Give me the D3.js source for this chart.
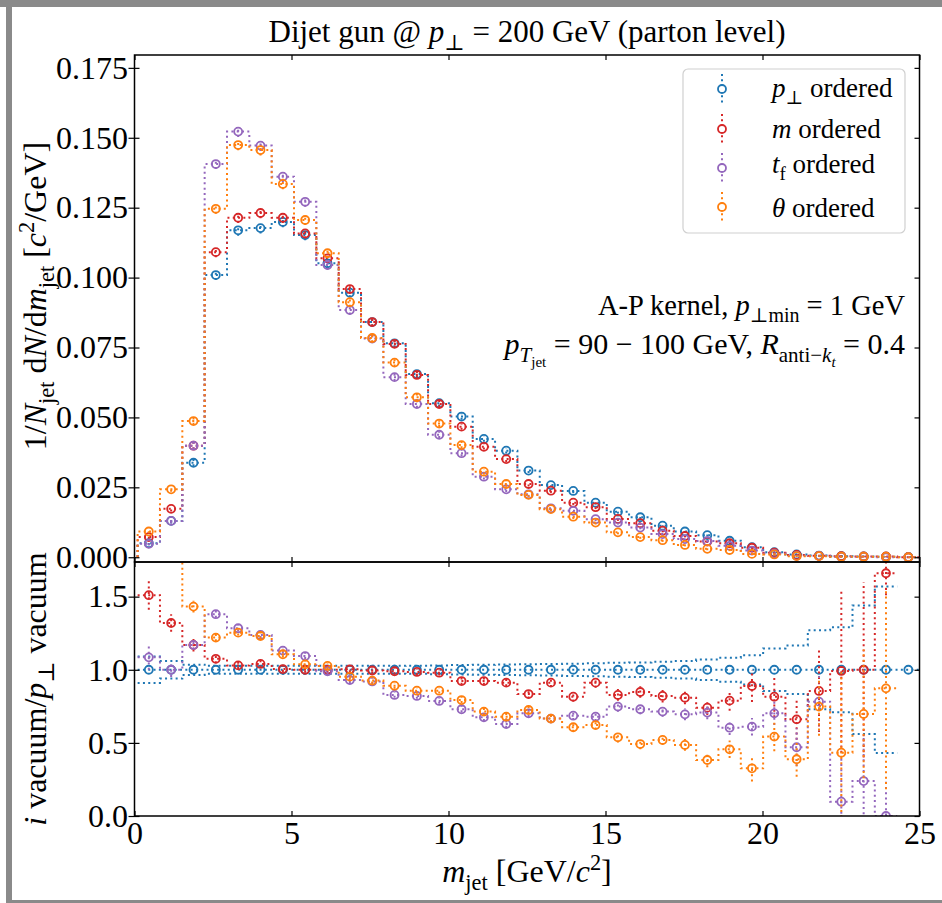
<!DOCTYPE html>
<html>
<head>
<meta charset="utf-8">
<script src="https://cdn.jsdelivr.net/npm/d3@7"></script>
<style>
  html, body { margin: 0; padding: 0; background: #fff; }
  svg { display: block; }
  text { font-family: "Liberation Serif", "DejaVu Serif", serif; fill: #000; }
</style>
</head>
<body>
<svg id="chart" width="942" height="903"></svg>
<script>
// ---------------- data ----------------
// jet-mass bin edges [GeV/c^2]
const binEdges = [0.100, 0.811, 1.523, 2.234, 2.946, 3.657, 4.369, 5.080, 5.791, 6.503,
  7.214, 7.926, 8.637, 9.349, 10.060, 10.771, 11.483, 12.194, 12.906, 13.617,
  14.329, 15.040, 15.751, 16.463, 17.174, 17.886, 18.597, 19.309, 20.020, 20.731,
  21.443, 22.154, 22.866, 23.577, 24.289, 25.000];

// normalised jet-mass distributions, 1/N dN/dm
const distPt = [0.0050, 0.0130, 0.0338, 0.1009, 0.1169, 0.1177, 0.1199, 0.1152, 0.1051, 0.0946,
  0.0841, 0.0765, 0.0655, 0.0551, 0.0503, 0.0423, 0.0381, 0.0310, 0.0258, 0.0237,
  0.0195, 0.0163, 0.0143, 0.0113, 0.0092, 0.0079, 0.0059, 0.0036, 0.0018, 0.0010,
  0.0006, 0.0004, 0.0003, 0.0002, 0.0001];
const distM = [0.0072, 0.0173, 0.0399, 0.1091, 0.1214, 0.1231, 0.1214, 0.1158, 0.1069, 0.0959,
  0.0841, 0.0763, 0.0652, 0.0548, 0.0467, 0.0395, 0.0351, 0.0262, 0.0238, 0.0195,
  0.0179, 0.0137, 0.0122, 0.0095, 0.0076, 0.0056, 0.0050, 0.0034, 0.0016, 0.0008,
  0.0005, 0.0004, 0.0003, 0.0003, 0.0000];
const distTf = [0.0048, 0.0130, 0.0399, 0.1406, 0.1522, 0.1472, 0.1361, 0.1271, 0.1045, 0.0884,
  0.0782, 0.0644, 0.0548, 0.0438, 0.0372, 0.0288, 0.0243, 0.0225, 0.0175, 0.0166,
  0.0136, 0.0124, 0.0106, 0.0083, 0.0065, 0.0058, 0.0041, 0.0024, 0.0013, 0.0005,
  0.0005, 0.0001, 0.0001, 0.0000, 0.0000];
const distTheta = [0.0092, 0.0243, 0.0487, 0.1246, 0.1474, 0.1456, 0.1335, 0.1206, 0.1087, 0.0912,
  0.0784, 0.0696, 0.0572, 0.0478, 0.0401, 0.0306, 0.0262, 0.0223, 0.0172, 0.0145,
  0.0124, 0.0089, 0.0072, 0.0061, 0.0044, 0.0030, 0.0026, 0.0012, 0.0010, 0.0004,
  0.0004, 0.0002, 0.0002, 0.0002, 0.0000];
// statistical uncertainty on the distributions
const distErr = [0.0006, 0.0009, 0.0013, 0.0018, 0.0019, 0.0019, 0.0019, 0.0018, 0.0017, 0.0016,
  0.0015, 0.0014, 0.0013, 0.0012, 0.0011, 0.0010, 0.0010, 0.0009, 0.0008, 0.0008,
  0.0007, 0.0007, 0.0006, 0.0006, 0.0005, 0.0005, 0.0004, 0.0004, 0.0003, 0.0003,
  0.0002, 0.0002, 0.0002, 0.0001, 0.0001];

// ratios to the p_perp-ordered vacuum shower (null = empty bin)
const ratioPt = [1, 1, 1, 1, 1, 1, 1, 1, 1, 1, 1, 1, 1, 1, 1, 1, 1, 1, 1, 1,
  1, 1, 1, 1, 1, 1, 1, 1, 1, 1, 1, 1, 1, 1, 1];
const ratioPtErr = [0.09, 0.06, 0.035, 0.027, 0.027, 0.027, 0.027, 0.027, 0.027, 0.027,
  0.027, 0.027, 0.028, 0.030, 0.032, 0.034, 0.036, 0.038, 0.040, 0.042,
  0.045, 0.048, 0.050, 0.055, 0.060, 0.070, 0.082, 0.100, 0.146, 0.166,
  0.270, 0.290, 0.440, 0.570, null];
const ratioM = [1.51, 1.32, 1.17, 1.075, 1.03, 1.04, 1.005, 1.0, 1.0, 1.003,
  0.995, 0.99, 0.985, 0.98, 0.923, 0.923, 0.912, 0.834, 0.912, 0.816,
  0.912, 0.828, 0.848, 0.821, 0.809, 0.741, 0.789, 0.889, 0.816, 0.661,
  0.855, 0.992, 1.0, 1.66, null];
const ratioMErr = [0.10, 0.06, 0.045, 0.03, 0.025, 0.025, 0.02, 0.02, 0.02, 0.02,
  0.02, 0.02, 0.02, 0.02, 0.025, 0.025, 0.025, 0.03, 0.03, 0.035,
  0.035, 0.04, 0.04, 0.045, 0.045, 0.05, 0.07, 0.11, 0.14, 0.14,
  0.28, 0.56, 0.60, 0.15, null];
const ratioTf = [1.085, 1.0, 1.17, 1.38, 1.284, 1.238, 1.131, 1.094, 0.99, 0.93,
  0.92, 0.828, 0.821, 0.787, 0.730, 0.675, 0.629, 0.702, 0.666, 0.686,
  0.679, 0.748, 0.730, 0.714, 0.695, 0.707, 0.604, 0.611, 0.702, 0.470,
  0.782, 0.098, 0.239, 0.0, null];
const ratioTfErr = [0.085, 0.05, 0.03, 0.025, 0.02, 0.02, 0.02, 0.02, 0.02, 0.02,
  0.02, 0.02, 0.02, 0.02, 0.02, 0.025, 0.025, 0.025, 0.025, 0.03,
  0.03, 0.035, 0.035, 0.035, 0.04, 0.045, 0.05, 0.06, 0.08, 0.13,
  0.20, 0.30, 0.30, 0.25, null];
const ratioTheta = [1.84, 1.87, 1.432, 1.22, 1.254, 1.231, 1.106, 1.037, 1.026, 0.953,
  0.926, 0.891, 0.857, 0.857, 0.793, 0.714, 0.679, 0.725, 0.666, 0.607,
  0.622, 0.538, 0.492, 0.520, 0.486, 0.383, 0.456, 0.326, 0.543, 0.388,
  0.748, 0.433, 0.698, 0.873, null];
const ratioThetaErr = [0.10, 0.08, 0.04, 0.025, 0.02, 0.02, 0.02, 0.02, 0.02, 0.02,
  0.02, 0.02, 0.02, 0.02, 0.02, 0.025, 0.025, 0.025, 0.025, 0.03,
  0.03, 0.035, 0.035, 0.035, 0.04, 0.05, 0.06, 0.09, 0.10, 0.12,
  0.20, 0.55, 0.44, 0.69, null];

const xTicks = [0, 5, 10, 15, 20, 25];
const yTicksDist = [0, 0.025, 0.05, 0.075, 0.1, 0.125, 0.15, 0.175];
const yTicksRatio = [0, 0.5, 1.0, 1.5];

const seriesColors = ["#1f77b4", "#d62728", "#9467bd", "#ff7f0e"];
const legendLabels = [
  [["p", "i"], ["⊥", "sub"], [" ordered", ""]],
  [["m", "i"], [" ordered", ""]],
  [["t", "i"], ["f", "sub"], [" ordered", ""]],
  [["θ", "i"], [" ordered", ""]]
];

const series = [
  { dist: distPt,    ratio: ratioPt,    rErr: ratioPtErr,    band: true },
  { dist: distM,     ratio: ratioM,     rErr: ratioMErr,     band: false },
  { dist: distTf,    ratio: ratioTf,    rErr: ratioTfErr,    band: false },
  { dist: distTheta, ratio: ratioTheta, rErr: ratioThetaErr, band: false }
].map((s, i) => Object.assign(s, { color: seriesColors[i], label: legendLabels[i] }));

// ---------------- layout ----------------
const svg = d3.select("#chart");
const X0 = 134.5, X1 = 919.5;
const TOP0 = 55, MID = 562, BOT = 816;
const DOT = "2 3.3";

const x = d3.scaleLinear().domain([0, 25]).range([X0, X1]);
const yD = d3.scaleLinear().domain([-0.0017, 0.1796]).range([MID, TOP0]);
const yR = d3.scaleLinear().domain([0, 1.737]).range([BOT, MID]);

// window frame
svg.append("rect").attr("x", 0).attr("y", 0).attr("width", 942).attr("height", 903).attr("fill", "#fff");
svg.append("rect").attr("x", 0).attr("y", 0).attr("width", 942).attr("height", 7).attr("fill", "#8a8a8a");
svg.append("rect").attr("x", 6).attr("y", 0).attr("width", 6).attr("height", 903).attr("fill", "#8a8a8a");
svg.append("rect").attr("x", 6).attr("y", 900).attr("width", 936).attr("height", 3).attr("fill", "#8a8a8a");

// rich text helper: parts = [[string, kind]]
function rich(t, parts, size) {
  let off = 0;
  parts.forEach(([str, kind]) => {
    const ts = t.append("tspan").text(str);
    let target = 0, fs = size;
    if (kind.startsWith("sub")) { target = size * 0.25; fs = size * 0.7; }
    if (kind.startsWith("ss")) { target = size * 0.42; fs = size * 0.5; }
    if (kind.startsWith("sup")) { target = -size * 0.38; fs = size * 0.7; }
    if (kind.endsWith("i")) ts.attr("font-style", "italic");
    ts.attr("font-size", fs).attr("dy", target - off);
    off = target;
  });
  return t;
}

const defs = svg.append("defs");
defs.append("clipPath").attr("id", "clipTop").append("rect")
  .attr("x", X0).attr("y", TOP0).attr("width", X1 - X0).attr("height", MID - TOP0);
defs.append("clipPath").attr("id", "clipBot").append("rect")
  .attr("x", X0).attr("y", MID).attr("width", X1 - X0).attr("height", BOT - MID);

const centers = binEdges.slice(0, -1).map((e, i) => (e + binEdges[i + 1]) / 2);
const stepLine = (ys) => d3.line().curve(d3.curveStepAfter).x(d => x(d[0])).y(d => ys(d[1]));

// runs of consecutive defined values -> step points
function stepRuns(vals) {
  const runs = [];
  let cur = null;
  vals.forEach((v, i) => {
    if (v === null) { cur = null; return; }
    if (!cur) { cur = []; runs.push(cur); }
    cur.push([binEdges[i], v, i]);
  });
  runs.forEach(r => { const last = r[r.length - 1]; r.push([binEdges[last[2] + 1], last[1]]); });
  return runs;
}

// ---------------- upper panel: distributions ----------------
const gTop = svg.append("g").attr("clip-path", "url(#clipTop)");
series.forEach(s => {
  const g = gTop.append("g");
  const pts = [[binEdges[0], 0]].concat(s.dist.map((v, i) => [binEdges[i], v]))
    .concat([[binEdges[binEdges.length - 1], s.dist[s.dist.length - 1]], [binEdges[binEdges.length - 1], 0]]);
  g.append("path").attr("d", stepLine(yD)(pts)).attr("fill", "none")
    .attr("stroke", s.color).attr("stroke-width", 2).attr("stroke-dasharray", DOT);
  g.selectAll("line.err").data(s.dist).join("line").attr("class", "err")
    .attr("x1", (d, i) => x(centers[i])).attr("x2", (d, i) => x(centers[i]))
    .attr("y1", (d, i) => yD(d - distErr[i])).attr("y2", (d, i) => yD(d + distErr[i]))
    .attr("stroke", s.color).attr("stroke-width", 2).attr("stroke-dasharray", DOT);
  g.selectAll("circle").data(s.dist).join("circle")
    .attr("cx", (d, i) => x(centers[i])).attr("cy", d => yD(d)).attr("r", 4)
    .attr("fill", "none").attr("stroke", s.color).attr("stroke-width", 1.8);
});

// ---------------- lower panel: ratios ----------------
const gBot = svg.append("g").attr("clip-path", "url(#clipBot)");
series.forEach(s => {
  const g = gBot.append("g");
  const dash = (sel) => sel.attr("fill", "none").attr("stroke", s.color)
    .attr("stroke-width", 2).attr("stroke-dasharray", DOT);
  stepRuns(s.ratio).forEach(r => g.append("path").attr("d", stepLine(yR)(r)).call(dash));
  if (s.band) {
    const up = s.ratio.map((v, i) => (v === null || s.rErr[i] === null) ? null : v + s.rErr[i]);
    const lo = s.ratio.map((v, i) => (v === null || s.rErr[i] === null) ? null : v - s.rErr[i]);
    stepRuns(up).forEach(r => g.append("path").attr("d", stepLine(yR)(r)).call(dash));
    stepRuns(lo).forEach(r => g.append("path").attr("d", stepLine(yR)(r)).call(dash));
  } else {
    const idx = s.ratio.map((v, i) => i).filter(i => s.ratio[i] !== null);
    g.selectAll("line.err").data(idx).join("line").attr("class", "err")
      .attr("x1", i => x(centers[i])).attr("x2", i => x(centers[i]))
      .attr("y1", i => yR(s.ratio[i] - s.rErr[i])).attr("y2", i => yR(s.ratio[i] + s.rErr[i]))
      .call(dash);
  }
  const idx = s.ratio.map((v, i) => i).filter(i => s.ratio[i] !== null);
  g.selectAll("circle").data(idx).join("circle")
    .attr("cx", i => x(centers[i])).attr("cy", i => yR(s.ratio[i])).attr("r", 4)
    .attr("fill", "none").attr("stroke", s.color).attr("stroke-width", 1.8);
});

// ---------------- axes ----------------
const TFS = 32;
function styleAxis(g) {
  g.attr("font-family", null).attr("font-size", null);
  g.select(".domain").remove();
  g.selectAll(".tick line").attr("stroke", "#000").attr("stroke-width", 1.2);
  g.selectAll(".tick text").attr("font-size", TFS).attr("fill", "#000");
}
function yAxes(scale, ticks, fmt) {
  svg.append("g").attr("transform", `translate(${X0},0)`)
    .call(d3.axisLeft(scale).tickValues(ticks).tickFormat(d3.format(fmt)).tickSize(6).tickPadding(0.5))
    .call(styleAxis)
    .call(g => g.selectAll(".tick line").attr("x1", 5).attr("x2", -6));
  svg.append("g").attr("transform", `translate(${X1},0)`)
    .call(d3.axisRight(scale).tickValues(ticks).tickFormat("").tickSize(-5))
    .call(styleAxis);
}
function xAxes(yPos, dir, labels) {
  const ax = dir === "bottom" ? d3.axisBottom(x) : d3.axisTop(x);
  svg.append("g").attr("transform", `translate(0,${yPos})`)
    .call(ax.tickValues(xTicks).tickSize(-5).tickPadding(5.5).tickFormat(labels ? d3.format("d") : ""))
    .call(styleAxis);
}
yAxes(yD, yTicksDist, ".3f");
yAxes(yR, yTicksRatio, ".1f");
xAxes(MID, "bottom", false);
xAxes(TOP0, "top", false);
xAxes(BOT, "bottom", true);
xAxes(MID, "top", false);

// panel frames
[[TOP0, MID], [MID, BOT]].forEach(([a, b]) => {
  svg.append("rect").attr("x", X0).attr("y", a).attr("width", X1 - X0).attr("height", b - a)
    .attr("fill", "none").attr("stroke", "#000").attr("stroke-width", 1.5);
});

// ---------------- texts ----------------
rich(svg.append("text").attr("x", 527).attr("y", 42).attr("text-anchor", "middle"),
  [["Dijet gun @ ", ""], ["p", "i"], ["⊥", "sub"], [" = 200 GeV (parton level)", ""]], 31);

rich(svg.append("text").attr("x", 527).attr("y", 882).attr("text-anchor", "middle"),
  [["m", "i"], ["jet", "sub"], [" [GeV/", ""], ["c", "i"], ["2", "sup"], ["]", ""]], 32);

rich(svg.append("text").attr("transform", "translate(46,296) rotate(-90)").attr("text-anchor", "middle"),
  [["1/", ""], ["N", "i"], ["jet", "sub"], [" d", ""], ["N", "i"], ["/d", ""], ["m", "i"], ["jet", "sub"],
   [" [", ""], ["c", "i"], ["2", "sup"], ["/GeV]", ""]], 32);

rich(svg.append("text").attr("transform", "translate(46,689) rotate(-90)").attr("text-anchor", "middle"),
  [["i", "i"], [" vacuum/", ""], ["p", "i"], ["⊥", "sub"], [" vacuum", ""]], 32);

rich(svg.append("text").attr("x", 905).attr("y", 315).attr("text-anchor", "end"),
  [["A-P kernel, ", ""], ["p", "i"], ["⊥min", "sub"], [" = 1 GeV", ""]], 28.5);
rich(svg.append("text").attr("x", 905).attr("y", 354).attr("text-anchor", "end"),
  [["p", "i"], ["T", "subi"], ["jet", "ss"], [" = 90 − 100 GeV, ", ""], ["R", "i"], ["anti−", "sub"],
   ["k", "subi"], ["t", "ssi"], [" = 0.4", ""]], 30);

// ---------------- legend ----------------
const lg = svg.append("g");
lg.append("rect").attr("x", 683).attr("y", 69).attr("width", 222).attr("height", 164).attr("rx", 5)
  .attr("fill", "#fff").attr("fill-opacity", 0.8).attr("stroke", "#d0d0d0").attr("stroke-width", 1.2);
const rowMarkerY = [89, 129, 168, 207];
const rowTextY = [97, 138, 173, 217];
series.forEach((s, i) => {
  const cy = rowMarkerY[i];
  lg.append("line").attr("x1", 722).attr("x2", 722).attr("y1", cy - 15).attr("y2", cy + 15)
    .attr("stroke", s.color).attr("stroke-width", 2).attr("stroke-dasharray", DOT);
  lg.append("circle").attr("cx", 722).attr("cy", cy).attr("r", 4)
    .attr("fill", "#fff").attr("stroke", s.color).attr("stroke-width", 1.8);
  rich(lg.append("text").attr("x", 772).attr("y", rowTextY[i]), s.label, 27);
});
</script>
</body>
</html>
